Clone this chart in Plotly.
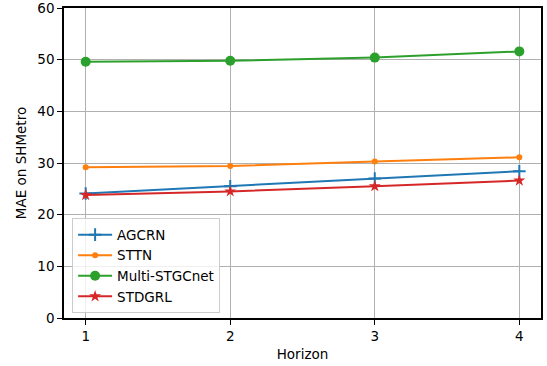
import plotly.graph_objects as go

horizon = [1, 2, 3, 4]
agcrn = [24.1, 25.5, 27.0, 28.4]
sttn = [29.2, 29.4, 30.3, 31.1]
multi_stgcnet = [49.6, 49.8, 50.4, 51.6]
stdgrl = [23.8, 24.5, 25.5, 26.6]

series = [
    ("AGCRN", agcrn, "#1f77b4", "cross-thin", 9),
    ("STTN", sttn, "#ff7f0e", "circle", 6),
    ("Multi-STGCnet", multi_stgcnet, "#2ca02c", "circle", 10),
    ("STDGRL", stdgrl, "#d62728", "star", 9),
]

fig = go.Figure()
for name, vals, color, sym, size in series:
    fig.add_trace(go.Scatter(
        x=horizon, y=vals, name=name, mode="lines+markers",
        line=dict(color=color, width=2),
        marker=dict(symbol=sym, size=size, color=color,
                    line=dict(color=color, width=2 if sym == "cross-thin" else 0)),
    ))

axis_common = dict(
    showline=True, linecolor="black", linewidth=1.5, mirror=True,
    ticks="outside", ticklen=5, tickcolor="black", tickwidth=1.2,
    showgrid=True, gridcolor="#b0b0b0", gridwidth=1.2,
    zeroline=False, tickfont=dict(size=13.5, color="black"),
    automargin=False, ticklabeloverflow="allow",
)

fig.update_layout(
    width=547, height=366,
    margin=dict(l=64, r=6, t=8, b=48),
    paper_bgcolor="white", plot_bgcolor="white",
    font=dict(family="DejaVu Sans", size=13.5, color="black"),
    xaxis=dict(range=[0.85, 4.15], tickvals=horizon,
               title=dict(text="Horizon", font=dict(size=13.5), standoff=7), **axis_common),
    yaxis=dict(range=[0, 60], dtick=10,
               title=dict(text="MAE on SHMetro", font=dict(size=13.5), standoff=8), **axis_common),
    legend=dict(x=0.017, y=0.015, xanchor="left", yanchor="bottom",
                bgcolor="rgba(255,255,255,0.8)", bordercolor="#cccccc", borderwidth=1,
                font=dict(size=13.5), tracegroupgap=0, itemwidth=34),
)

fig.write_html("out.html", config={"displayModeBar": False},
               post_script="document.body.style.margin='0';document.body.style.overflow='hidden';")
